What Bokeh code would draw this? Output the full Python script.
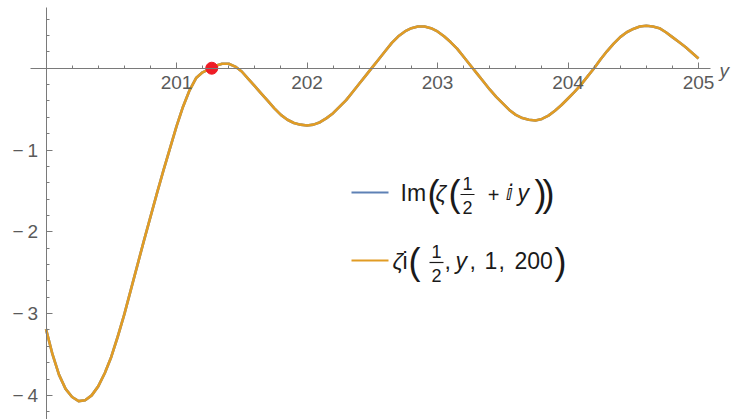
from bokeh.plotting import figure
from bokeh.models import LinearAxis, FixedTicker, Range1d
from bokeh.core.properties import value
from bokeh.embed import file_html
from bokeh.resources import INLINE

# Sampled values along the critical line, y in [200, 205]
y_grid = [200.00, 200.05, 200.10, 200.15, 200.20, 200.25, 200.30, 200.35, 200.40,
          200.45, 200.50, 200.55, 200.60, 200.65, 200.70, 200.75, 200.80, 200.85,
          200.90, 200.95, 201.00, 201.05, 201.10, 201.15, 201.20, 201.25, 201.27,
          201.30, 201.35, 201.40, 201.45, 201.50, 201.55, 201.60, 201.65, 201.70,
          201.75, 201.80, 201.85, 201.90, 201.95, 202.00, 202.05, 202.10, 202.15,
          202.20, 202.25, 202.30, 202.35, 202.40, 202.45, 202.50, 202.55, 202.60,
          202.65, 202.70, 202.75, 202.80, 202.85, 202.90, 202.95, 203.00, 203.05,
          203.10, 203.15, 203.20, 203.25, 203.27, 203.30, 203.35, 203.40, 203.45,
          203.50, 203.55, 203.60, 203.65, 203.70, 203.75, 203.80, 203.85, 203.90,
          203.95, 204.00, 204.05, 204.10, 204.15, 204.20, 204.25, 204.30, 204.35,
          204.40, 204.45, 204.50, 204.55, 204.60, 204.65, 204.70, 204.75, 204.80,
          204.85, 204.90, 204.95, 205.00]
im_zeta = [-3.19, -3.50, -3.75, -3.92, -4.02, -4.07, -4.06, -4.00, -3.89,
           -3.73, -3.53, -3.28, -3.01, -2.71, -2.41, -2.11, -1.82, -1.53,
           -1.25, -0.98, -0.71, -0.47, -0.27, -0.12, -0.05, -0.01, 0.00,
           0.03, 0.055, 0.055, 0.02, -0.04, -0.13, -0.22, -0.31, -0.40,
           -0.49, -0.57, -0.63, -0.67, -0.69, -0.70, -0.69, -0.66, -0.61,
           -0.55, -0.47, -0.39, -0.29, -0.19, -0.09, 0.01, 0.11, 0.21,
           0.31, 0.39, 0.45, 0.49, 0.51, 0.51, 0.49, 0.45, 0.39,
           0.32, 0.24, 0.14, 0.04, 0.00, -0.06, -0.16, -0.26, -0.35,
           -0.43, -0.51, -0.57, -0.61, -0.63, -0.64, -0.62, -0.58, -0.52,
           -0.45, -0.37, -0.29, -0.20, -0.10, 0.00, 0.11, 0.21, 0.30,
           0.38, 0.44, 0.48, 0.51, 0.52, 0.51, 0.49, 0.44, 0.38,
           0.32, 0.26, 0.19, 0.12]
zeta_i = list(im_zeta)  # partial-sum approximation, identical at this scale

zero_y = [201.27]
zero_val = [0.0]

x_major = [201, 202, 203, 204, 205]
y_major = [-4, -3, -2, -1]

W, H = 732, 419
X0, X1 = 199.6513, 205.2605
Y0, Y1 = -4.295, 0.828


def dx(px):
    return X0 + px / W * (X1 - X0)


def dy(py):
    return Y1 - py / H * (Y1 - Y0)


p = figure(width=W, height=H, x_range=Range1d(X0, X1), y_range=Range1d(Y0, Y1),
           output_backend="svg", toolbar_location=None,
           x_axis_location=None, y_axis_location=None, min_border=0)
p.outline_line_color = None
p.grid.visible = False
p.background_fill_color = "white"
p.border_fill_color = "white"

AX = "#7a7a7a"
LBL = "#5a5a5a"

x_minor = [round(200 + 0.2 * k, 1) for k in range(1, 26) if k % 5]
y_minor = [round(-4.2 + 0.2 * k, 1) for k in range(0, 25) if (k - 1) % 5]

xa = LinearAxis(fixed_location=0, bounds=(dx(30), dx(710)),
                ticker=FixedTicker(ticks=x_major, minor_ticks=x_minor))
ya = LinearAxis(fixed_location=200, bounds=(Y0, dy(7)),
                ticker=FixedTicker(ticks=y_major, minor_ticks=y_minor),
                major_label_overrides={v: "\u2212\u2009" + str(-v) for v in y_major})
for ax in (xa, ya):
    ax.axis_line_color = AX
    ax.major_tick_line_color = AX
    ax.minor_tick_line_color = AX
    ax.major_tick_in = 6
    ax.major_tick_out = 0
    ax.minor_tick_in = 3
    ax.minor_tick_out = 0
    ax.major_label_text_font = "Liberation Sans"
    ax.major_label_text_font_size = "19px"
    ax.major_label_text_color = LBL
    ax.major_label_standoff = 8
p.add_layout(xa, "below")
p.add_layout(ya, "left")

BLUE = "#5e81b5"
ORANGE = "#e19c24"
p.line(y_grid, im_zeta, line_color=BLUE, line_width=2.6, line_join="round")
p.line(y_grid, zeta_i, line_color=ORANGE, line_width=2.6, line_join="round")
p.scatter(zero_y, zero_val, size=12, fill_color="#ee1c25", line_color="#ee1c25")

T = "#1a1a1a"


def put(txt, px, py, size, style="normal", align="left", font="Liberation Sans", color=T):
    p.text(x=[dx(px)], y=[dy(py)], text=[txt], text_font=value(font),
           text_font_size=f"{size}px", text_font_style=style, text_align=align,
           text_baseline="middle", text_color=color)


def bar(px0, px1, py):
    p.segment(x0=[dx(px0)], y0=[dy(py)], x1=[dx(px1)], y1=[dy(py)],
              line_color=T, line_width=1.2)


# axis name at the right end of the horizontal axis
put("y", 719, 70, 19, "italic", color=LBL)

# legend entry 1: Im(ζ(1/2 + ⅈ y))
c1 = 192
p.segment(x0=[dx(351)], y0=[dy(c1)], x1=[dx(388)], y1=[dy(c1)], line_color=BLUE, line_width=2)
put("Im", 400, c1, 23)
put("(", 427, c1 + 1, 36)
put("ζ", 435, c1, 23, "italic")
put("(", 448, c1 + 1, 36)
put("1", 467, c1 - 9, 18, align="center")
bar(460, 474, c1 + 2)
put("2", 467, c1 + 15, 18, align="center")
put("+", 493, c1 + 2, 20, align="center")
put("\u2148", 505, c1, 22, font="DejaVu Sans")
put("y", 517, c1, 23, "italic")
put(")", 534, c1 + 1, 36)
put(")", 542, c1 + 1, 36)

# legend entry 2: ζi(1/2, y, 1, 200)
c2 = 260
p.segment(x0=[dx(351)], y0=[dy(c2)], x1=[dx(388)], y1=[dy(c2)], line_color=ORANGE, line_width=2)
put("ζ", 392, c2, 23, "italic")
put("i", 402, c2, 23)
put("(", 408, c2 + 1, 36)
put("1", 436, c2 - 9, 18, align="center")
bar(429, 443, c2 + 2)
put("2", 436, c2 + 15, 18, align="center")
put(",", 444, c2, 23)
put("y", 455, c2, 23, "italic")
put(",", 469, c2, 23)
put("1", 484, c2, 23)
put(",", 498, c2, 23)
put("200", 514, c2, 23)
put(")", 554, c2 + 1, 36)

open("out.html", "w").write(file_html(p, INLINE))
